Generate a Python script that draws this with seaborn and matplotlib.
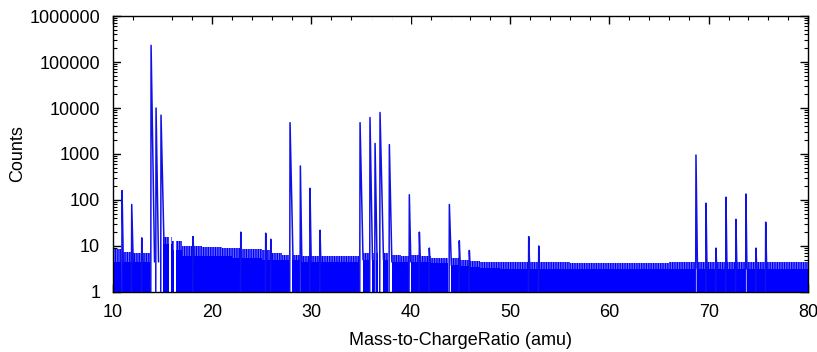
import numpy as np
import matplotlib
matplotlib.use("Agg")
import matplotlib.pyplot as plt
import seaborn as sns

# peaks (mass in amu, counts at apex, tail length in amu)
peak_mass = [10.94, 11.91, 12.92, 13.86, 14.36, 14.86, 18.08, 22.89, 25.40,
             25.91, 27.85, 28.89, 29.86, 30.87, 34.90, 35.90, 36.41, 36.91,
             37.85, 39.86, 40.87, 41.87, 43.89, 44.89, 45.90, 51.88, 52.89,
             68.72, 69.73, 70.73, 71.74, 72.74, 73.75, 74.76, 75.74]
peak_counts = [160, 80, 15, 230000, 10000, 7000, 16, 20, 19,
               14, 4800, 550, 180, 22, 4800, 6200, 1700, 8000,
               1600, 130, 20, 9, 80, 13, 8, 16, 10,
               950, 85, 9, 115, 38, 135, 9, 33]
peak_tail = [0.12, 0.15, 0.08, 0.35, 0.25, 0.30, 0.08, 0.08, 0.08,
             0.08, 0.30, 0.15, 0.12, 0.08, 0.30, 0.25, 0.20, 0.35,
             0.25, 0.15, 0.10, 0.08, 0.20, 0.10, 0.08, 0.10, 0.08,
             0.15, 0.10, 0.08, 0.10, 0.10, 0.10, 0.08, 0.10]

# noise band per amu, 10..79 (solid floor and ragged top of the spikes)
band_mass = list(range(10, 80))
band_floor = [4.5, 4.5, 4.5, 4.5, 4.5, 11, 8, 6, 6, 6,
              6, 6, 5.5, 5.5, 5.5, 5, 5, 5, 5, 4.5,
              4.5, 4.5, 4.5, 4.5, 4.5, 5, 5, 5, 4.5, 4.5,
              4.5, 4.5, 4.2, 4.2, 3.8, 3.6, 3.5, 3.4, 3.3, 3.2,
              3.2, 3.2, 3.2, 3.2, 3.2, 3.2, 3.2, 3.2, 3.2, 3.2,
              3.2, 3.2, 3.2, 3.2, 3.2, 3.2, 3.2, 3.2, 3.2, 3.2,
              3.2, 3.2, 3.2, 3.2, 3.2, 3.2, 3.2, 3.2, 3.2, 3.2]
band_top = [8.5, 7.5, 7, 7, 7, 16, 13, 10, 10, 9.5,
            9.5, 9, 9, 8.5, 8.5, 8, 7, 6.5, 6.5, 6,
            6, 6, 6, 6, 6, 7, 7, 7, 6.5, 6,
            6.5, 6, 5.5, 5.5, 5.5, 5, 4.8, 4.6, 4.6, 4.5,
            4.5, 4.5, 4.5, 4.5, 4.5, 4.5, 4.3, 4.3, 4.3, 4.3,
            4.3, 4.3, 4.3, 4.3, 4.3, 4.3, 4.5, 4.5, 4.5, 4.5,
            4.5, 4.5, 4.5, 4.5, 4.5, 4.5, 4.5, 4.5, 4.5, 4.5]

# spans where the counts fall to 1 (white gaps)
gap_start = [10.88, 11.88, 13.80, 15.65, 16.15, 27.75, 28.82, 34.75, 35.75,
             36.30, 36.70, 37.75, 39.80, 43.80, 68.60, 69.68, 71.68, 72.68,
             73.65, 75.68]
gap_end = [10.94, 11.95, 15.10, 15.85, 16.40, 28.05, 28.95, 35.15, 36.10,
           36.50, 37.20, 38.15, 40.05, 44.10, 68.85, 69.75, 71.76, 72.76,
           73.82, 75.76]

sns.set_style("ticks")
plt.rcParams["font.family"] = ["Liberation Sans", "DejaVu Sans"]
plt.rcParams["hatch.linewidth"] = 0.9

blue = "#0000ff"

fig = plt.figure(figsize=(8.17, 3.52), dpi=100)
ax = fig.add_axes([0.138, 0.1705, 0.851, 0.784])

xs = band_mass + [80]
floor = band_floor + [band_floor[-1]]
top = band_top + [band_top[-1]]

ax.fill_between(xs, 1, floor, step="post", color=blue, lw=0, zorder=1)
ax.fill_between(xs, floor, top, step="post", facecolor="#6a6aff",
                edgecolor=blue, hatch="|||||||", lw=0, zorder=1)

for a, b in zip(gap_start, gap_end):
    ax.axvspan(a, b, color="white", lw=0, zorder=2)

for m, h, t in zip(peak_mass, peak_counts, peak_tail):
    base = band_floor[min(int(m + t) - 10, len(band_floor) - 1)]
    ax.plot([m - 0.03, m, m + t], [1, h, base], color="#1010e8", lw=1.1,
            zorder=3)

ax.set_yscale("log")
ax.set_xlim(10, 80)
ax.set_ylim(1, 1e6)
yt = [1, 10, 100, 1000, 10000, 100000, 1000000]
ax.set_yticks(yt)
ax.set_yticklabels([str(v) for v in yt])
ax.set_xticks(range(10, 81, 10))
ax.set_xticks(range(10, 81, 2), minor=True)

ax.tick_params(which="both", direction="in", top=True, right=True,
               labelsize=13, color="black", labelcolor="black")
ax.tick_params(axis="x", which="major", length=6, width=1, pad=9)
ax.tick_params(axis="y", which="major", length=6, width=1, pad=9)
ax.tick_params(which="minor", length=3, width=0.8)
for s in ax.spines.values():
    s.set_linewidth(1)
    s.set_color("black")

ax.set_xlabel("Mass-to-ChargeRatio (amu)", fontsize=13, color="black")
ax.set_ylabel("Counts", fontsize=13, color="black")
ax.xaxis.set_label_coords(0.5, -0.145)
ax.yaxis.set_label_coords(-0.125, 0.5)

fig.savefig("out.png", dpi=100)
